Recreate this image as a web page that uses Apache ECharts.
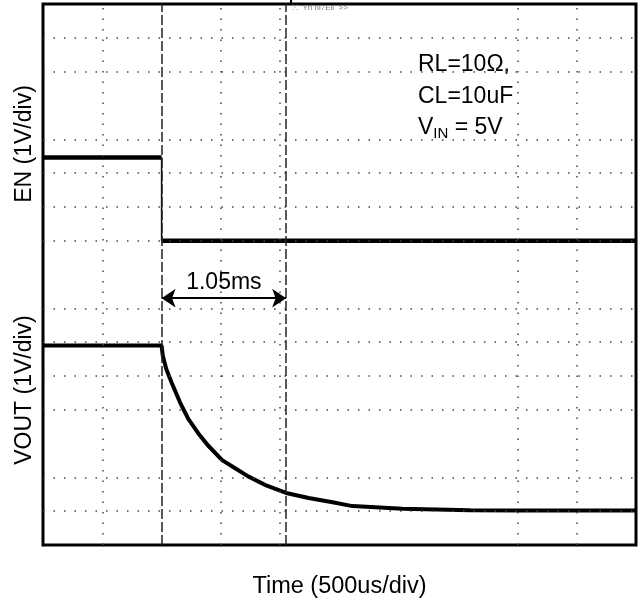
<!DOCTYPE html>
<html>
<head>
<meta charset="utf-8">
<script src="https://cdn.jsdelivr.net/npm/echarts@6/dist/echarts.min.js"></script>
<style>
  html, body { margin: 0; padding: 0; background: #fff; }
  #chart { width: 641px; height: 604px; }
</style>
</head>
<body>
<div id="chart"></div>
<script>
// x in ms (10 div x 0.5ms), y in screen divisions (16 div)
const enTime = [0, 1.0, 1.0, 5.0]
const enLevel = [11.46, 11.46, 9.0, 9.0]

const voutTime = [0, 1.0, 1.01, 1.04, 1.085, 1.155, 1.225, 1.31, 1.39, 1.51, 1.62, 1.73, 1.87, 2.05, 2.24, 2.43, 2.61, 3.03, 3.6, 4.02, 5.0]
const voutLevel = [5.9, 5.9, 5.6, 5.2, 4.8, 4.22, 3.73, 3.3, 2.95, 2.51, 2.27, 2.03, 1.78, 1.54, 1.39, 1.27, 1.15, 1.07, 1.03, 1.02, 1.02]

// grid lines drawn on the screen (some divisions are missing in the capture)
const vGrid = [0.5, 1.5, 2.0, 4.0, 4.5]
const hGrid = [1, 2, 4, 5, 6, 7, 9, 10, 11, 12, 14, 15]
const cursors = [1.0, 2.05]
const arrowLevel = 7.3
const deltaLabel = '1.05ms'

const toPairs = (xs, ys) => xs.map((x, i) => [x, ys[i]])

// EN: flat levels drawn thick, the fast edge drawn thin
const enPts = toPairs(enTime, enLevel)
const enLevels = [enPts[0], enPts[1], '-', enPts[2], enPts[3]]
const enEdge = [enPts[1], enPts[2]]

const chart = echarts.init(document.getElementById('chart'))

const font = 'Liberation Sans, Arial, Helvetica, sans-serif'

const option = {
  animation: false,
  grid: {
    left: 43, right: 5, top: 4, bottom: 53.5,
    show: true, borderColor: '#000', borderWidth: 3, backgroundColor: '#fff'
  },
  xAxis: {
    type: 'value', min: 0, max: 5,
    axisLine: { show: false }, axisTick: { show: false },
    axisLabel: { show: false }, splitLine: { show: false },
    name: 'Time (500us/div)', nameLocation: 'middle', nameGap: 30,
    nameTextStyle: { fontFamily: font, fontSize: 23.5, color: '#000' }
  },
  yAxis: {
    type: 'value', min: 0, max: 16,
    axisLine: { show: false }, axisTick: { show: false },
    axisLabel: { show: false }, splitLine: { show: false }
  },
  series: [
    {
      // grid dots + cursors
      type: 'line', data: [], silent: true,
      markLine: {
        silent: true, symbol: 'none', animation: false,
        label: { show: false },
        lineStyle: { color: '#444', width: 1.5, type: [1.5, 9] },
        data: [
          ...vGrid.map(v => ({ xAxis: v })),
          ...hGrid.map(h => ({ yAxis: h })),
          ...cursors.map(c => ({ xAxis: c, lineStyle: { color: '#222', width: 1.5, type: [10, 3] } }))
        ]
      }
    },
    {
      name: 'EN', type: 'line', data: enLevels, connectNulls: false,
      symbol: 'none', lineStyle: { color: '#000', width: 4.5 }
    },
    {
      name: 'EN edge', type: 'line', data: enEdge,
      symbol: 'none', lineStyle: { color: '#000', width: 1.5 }
    },
    {
      name: 'VOUT', type: 'line', data: toPairs(voutTime, voutLevel),
      symbol: 'none', lineStyle: { color: '#000', width: 4 }
    },
    {
      // 1.05ms arrow between the cursors
      type: 'line', data: [], silent: true,
      markLine: {
        silent: true, animation: false,
        symbol: ['arrow', 'arrow'], symbolSize: 14,
        lineStyle: { color: '#000', width: 2, type: 'solid' },
        label: {
          show: true, position: 'middle', formatter: deltaLabel,
          fontFamily: font, fontSize: 23, color: '#000', distance: 4
        },
        data: [[{ coord: [cursors[0], arrowLevel] }, { coord: [cursors[1], arrowLevel] }]]
      }
    }
  ],
  graphic: [
    {
      type: 'text', x: 418, y: 65,
      style: { text: 'RL=10Ω,', font: '23px ' + font, fill: '#000', verticalAlign: 'middle' }
    },
    {
      type: 'text', x: 418, y: 97,
      style: { text: 'CL=10uF', font: '23px ' + font, fill: '#000', verticalAlign: 'middle' }
    },
    {
      type: 'text', x: 418, y: 128,
      style: {
        text: '{v|V}{s|IN}{v| = 5V}', verticalAlign: 'middle', fill: '#000',
        rich: {
          v: { fontFamily: font, fontSize: 23, color: '#000' },
          s: { fontFamily: font, fontSize: 15, color: '#000', padding: [12, 0, 0, 0] }
        }
      }
    },
    {
      type: 'text', x: 292, y: 8,
      style: { text: '⁚⁖  Yn ni7Ell  >>', font: '8px ' + font, fill: '#777', verticalAlign: 'middle' }
    },
    {
      type: 'line', shape: { x1: 291, y1: 0, x2: 291, y2: 4 },
      style: { stroke: '#000', lineWidth: 2 }
    },
    {
      type: 'text', x: 25, y: 144, rotation: Math.PI / 2,
      style: { text: 'EN (1V/div)', font: '23px ' + font, fill: '#000', align: 'center', verticalAlign: 'middle' }
    },
    {
      type: 'text', x: 25, y: 390, rotation: Math.PI / 2,
      style: { text: 'VOUT (1V/div)', font: '23px ' + font, fill: '#000', align: 'center', verticalAlign: 'middle' }
    }
  ]
}

chart.setOption(option)
</script>
</body>
</html>
